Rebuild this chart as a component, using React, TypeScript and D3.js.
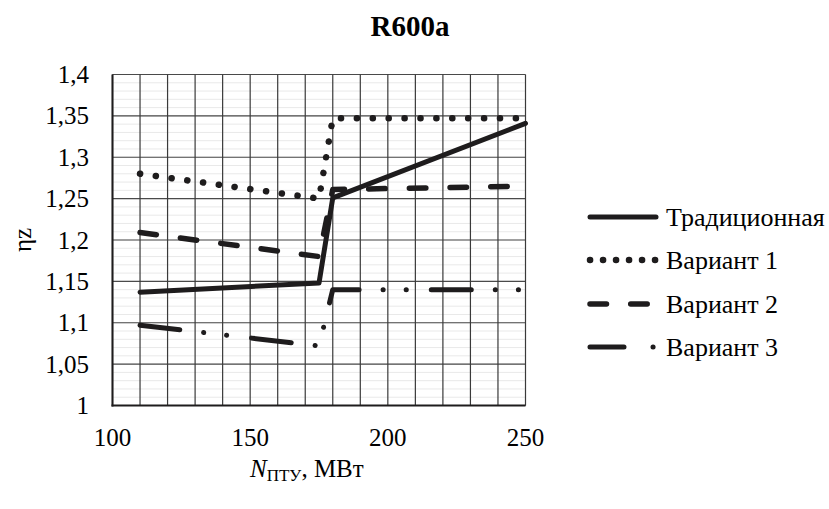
import React from "react";
import { scaleLinear, line, range } from "d3";

// data
const xValues = [110, 175, 180, 250];
const traditional = [1.137, 1.148, 1.251, 1.341];
const variant1 = [1.28, 1.25, 1.347, 1.347];
const variant2 = [1.209, 1.18, 1.261, 1.265];
const variant3 = [1.097, 1.072, 1.14, 1.14];

const seriesNames = ["Традиционная", "Вариант 1", "Вариант 2", "Вариант 3"];
const xTicks = [100, 150, 200, 250];
const yTicks = [1, 1.05, 1.1, 1.15, 1.2, 1.25, 1.3, 1.35, 1.4];

const W = 829;
const H = 509;
const margin = { left: 112.5, right: 525.5, top: 74.5, bottom: 405.5 };
const ink = "#1e1c1d";
const font = "Liberation Serif, Tinos, Times New Roman, DejaVu Serif, serif";

// line style per series: width, dasharray (chart), dasharray (legend)
const styles = [
  { w: 5, dash: "none", legendDash: "none" },
  { w: 6.5, dash: "0.1 15.8", legendDash: "0.1 12.9" },
  { w: 5.5, dash: "16.5 24.2", legendDash: "16.5 24.2" },
  { w: 5, dash: "40 24 0.1 23 0.1 25", legendDash: "34 29 0.1 30" }
];

const fmt = (v: number) => String(+v.toFixed(2)).replace(".", ",");

export default function App() {
  const x = scaleLinear().domain([100, 250]).range([margin.left, margin.right]);
  const y = scaleLinear().domain([1, 1.4]).range([margin.bottom, margin.top]);

  const series = [traditional, variant1, variant2, variant3];
  const path = line<number>()
    .x((_, i) => x(xValues[i]))
    .y(d => y(d));

  const minorY = range(1, 1.4001, 0.01);
  const gridX = range(100, 250.001, 10);

  const legendY = [217, 260, 304, 347];

  return (
    <svg width={W} height={H} style={{ position: "absolute", left: 0, top: 0 }}>
      <rect width={W} height={H} fill="#fff" />
      <text x={410} y={36} textAnchor="middle" fontFamily={font} fontWeight="bold" fontSize={29} fill="#000">
        R600a
      </text>

      {/* minor horizontal grid */}
      {minorY.map((v, i) => (
        <line key={"m" + i} x1={margin.left} x2={margin.right} y1={y(v)} y2={y(v)} stroke="#e9e9e9" strokeWidth={1} />
      ))}
      {/* major horizontal grid */}
      {yTicks.map(v => (
        <line key={"h" + v} x1={margin.left} x2={margin.right} y1={y(v)} y2={y(v)} stroke="#4a4a4a" strokeWidth={1.2} />
      ))}
      {/* vertical grid */}
      {gridX.map(v => (
        <line key={"v" + v} x1={x(v)} x2={x(v)} y1={margin.top} y2={margin.bottom} stroke="#3a3a3a" strokeWidth={1.2} />
      ))}
      {/* axis lines */}
      <line x1={margin.left} x2={margin.left} y1={margin.top} y2={margin.bottom + 1} stroke={ink} strokeWidth={2} />
      <line x1={margin.left - 1} x2={margin.right} y1={margin.bottom} y2={margin.bottom} stroke={ink} strokeWidth={2} />

      {/* series */}
      {series.map((s, i) => (
        <path
          key={"s" + i}
          d={path(s) || ""}
          fill="none"
          stroke={ink}
          strokeWidth={styles[i].w}
          strokeDasharray={styles[i].dash}
          strokeLinecap="round"
          strokeLinejoin="round"
        />
      ))}

      {/* y tick labels */}
      {yTicks.map(v => (
        <text key={"yl" + v} x={89} y={y(v) + 8.5} textAnchor="end" fontFamily={font} fontSize={25} fill="#000">
          {fmt(v)}
        </text>
      ))}
      {/* x tick labels */}
      {xTicks.map(v => (
        <text key={"xl" + v} x={x(v)} y={446} textAnchor="middle" fontFamily={font} fontSize={25} fill="#000">
          {v}
        </text>
      ))}

      {/* axis titles */}
      <text
        transform={`translate(31, ${(margin.top + margin.bottom) / 2}) rotate(-90)`}
        textAnchor="middle"
        fontFamily={font}
        fontSize={25}
        fill="#000"
      >
        ηz
      </text>
      <text x={250} y={477} fontFamily={font} fontSize={25} fill="#000">
        <tspan fontStyle="italic">N</tspan>
        <tspan fontSize={17} dy={4}>ПТУ</tspan>
        <tspan dy={-4}>, МВт</tspan>
      </text>

      {/* legend */}
      {seriesNames.map((name, i) => (
        <g key={"lg" + i}>
          <line
            x1={590}
            x2={656}
            y1={legendY[i]}
            y2={legendY[i]}
            stroke={ink}
            strokeWidth={styles[i].w}
            strokeDasharray={styles[i].legendDash}
            strokeLinecap="round"
          />
          <text x={666} y={legendY[i] + 8.5} fontFamily={font} fontSize={26} fill="#000">
            {name}
          </text>
        </g>
      ))}
    </svg>
  );
}
